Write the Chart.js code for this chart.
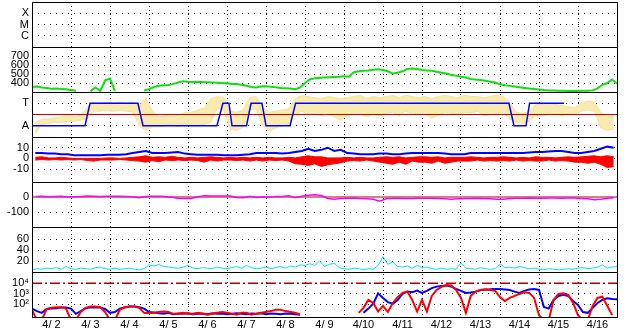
<!DOCTYPE html>
<html><head><meta charset="utf-8">
<script src="https://cdn.jsdelivr.net/npm/chart.js@4/dist/chart.umd.min.js"></script>
<style>html,body{margin:0;padding:0;background:#fff;overflow:hidden}canvas{display:block}</style>
</head><body>
<canvas id="c" width="628" height="334"></canvas>
<script>
// x axis: hours since 4/2 00:00
const dateLabels = ['4/ 2','4/ 3','4/ 4','4/ 5','4/ 6','4/ 7','4/ 8','4/ 9','4/10','4/11','4/12','4/13','4/14','4/15','4/16'];
const flareTicks = [1,2,3];          const flareLabels = ['C','M','X'];
const speedTicks = [400,500,600,700]; const speedLabels = ['400','500','600','700'];
const sectorTicks = [1,3];           const sectorLabels = ['A','T'];
const bTicks = [-10,0,10];           const bLabels = ['-10','0','10'];
const dstTicks = [-100,0];           const dstLabels = ['-100','0'];
const densTicks = [20,40,60];        const densLabels = ['20','40','60'];
const fluxTicks = [100,1000,10000];  const fluxLabels = ['10\u00B2','10\u00B3','10\u2074'];

// solar wind speed, every 3 h
const speedStep = 3;
const speed = [355,360,350,345,335,338,332,330,322,315,null,null,310,350,312,430,450,312,null,null,null,null,null,318,330,355,370,375,378,390,405,420,415,412,415,410,408,405,402,400,398,390,388,380,370,355,350,360,365,358,352,345,342,338,330,350,400,440,452,458,462,465,468,470,475,470,520,530,535,540,548,552,545,530,505,515,530,555,562,555,545,540,535,525,515,505,490,482,470,460,445,438,433,425,415,405,385,375,368,360,352,345,338,332,328,322,318,316,315,314,312,311,312,313,314,318,340,380,400,440,395];

// sector (yellow) ranges every 4 h, and A/T state
const sectorStep = 4;
const sectorLo = [0.3,1.1,1.2,1.3,1.3,1.4, 1.4,1.5,1.6,2.3,2.3,2.4, 2.3,2.4,2.3,2.2,1.0,0.6, 0.9,0.9,1.0,1.1,0.9,1.2, 1.0,1.0,1.1,1.3,2.6,2.4, 0.7,0.6,0.9,2.4,2.5,1.0, 0.5,0.8,1.0,1.1,2.0,2.3, 2.0,2.1,1.9,2.0,1.8,1.5, 1.9,2.1,2.0,1.8,2.0,1.9, 2.1,2.2,1.9,2.3,2.0,2.1, 2.0,1.7,1.9,2.2,2.1,2.0, 2.2,2.1,2.3,1.9,2.0,2.1, 2.2,1.6,1.3,1.2,1.4,1.9, 1.9,2.0,2.1,1.9,2.1,2.0, 2.3,2.4,2.3,0.8,0.6,0.7];
const sectorHi = [1.2,1.6,1.6,1.7,1.8,2.0, 1.8,1.9,2.6,3.0,3.0,3.1, 3.0,3.1,3.0,3.1,2.8,3.5, 2.3,1.8,1.9,2.0,1.9,2.2, 2.2,2.4,2.6,3.4,3.6,3.5, 2.3,2.2,2.4,3.5,3.6,2.6, 2.2,2.3,2.4,2.5,3.4,3.7, 3.6,3.5,3.4,3.6,3.5,3.4, 3.5,3.6,3.7,3.4,3.6,3.5, 3.6,3.7,3.5,3.7,3.6,3.5, 3.6,3.4,3.6,3.7,3.6,3.5, 3.7,3.6,3.6,3.5,3.6,3.7, 3.6,3.1,2.2,2.1,2.3,2.9, 2.9,3.0,2.9,2.8,2.7,2.6, 3.0,3.2,3.1,2.2,1.8,1.9];
const sectorTimes = [0,32.6,35.7,65.2,68.3,113.8,117.5,121.2,123.1,132,134.8,141.5,144,158.8,162.2,293.5,296.6,304,306.2,327.4];
const sectorState = [1,1,3,3,1,1,3,3,1,1,3,3,1,1,3,3,1,1,3,3];
const sectorBoundary = 2;

// IMF every 4 h
const bStep = 4;
const bzLo = [-1.5,-1,-1.5,-1,-1.5,-1, -1.5,-1,-2,-2.5,-1.5,-1.5, -1.5,-1,-1.5,-2,-2.5,-3.5, -2,-3,-1.5,-2,-1.5,-2, -1.5,-2,-3.5,-1.5,-2.5,-1.5, -1.5,-2,-1.5,-2.5,-1.5,-2.5, -1.5,-2,-1.5,-2.5,-5,-5.5, -6.5,-5,-7.5,-6,-5,-4, -2.5,-2,-2.5,-1.5,-2.5,-3.5, -4.5,-5.5,-3.5,-5.5,-2.5,-3.5, -3.5,-4.5,-2.5,-4.5,-3.5,-2.5, -2.5,-2.5,-1.5,-2.5,-2,-2.5, -2,-2.5,-1.5,-2.5,-2,-2.5, -2.5,-1.5,-2.5,-2,-2.5,-3.5, -3.5,-4.5,-3.5,-5.5,-8.5,-7.5];
const bzHi = [1,1.5,0.5,0.5,1,0.5, 0,0,0,0,0,0.5, 0.5,0,0.5,1,1.5,2.5, 1,1.5,1,2,1,0.5, 1,0.5,1,1.5,1,0.5, 1,0.5,1,0.5,1,0.5, 1,0.5,0.5,1,0.5,1.5, 2.5,1.5,1.5,0.5,0.5,0.5, 1,0.5,1,0.5,0.5,1, 1.5,1,1.5,0.5,1,1.5, 1.5,1,1.5,0.5,1,1, 1,1.5,1,0.5,1,1, 1.5,1,0.5,1,0.5,1.5, 1,1,0.5,1,1.5,1, 1.5,2,2.5,1.5,2.5,1.5];
const bt = [5,5,4.5,4.5,4,4, 3,3,3,3,3,3.5, 3.5,3.5,4,5,6,7, 5,5,5,5.5,6,4.5, 4,3.5,3.5,3.5,3.5,3, 3,3,3.5,4,5,5, 5,5,4.5,5,6,7, 9,7,8,10,7,8, 5,4.5,4,4,4,4.5, 4.5,4,4,4.5,5,5, 5,5,5,4.5,4,4, 4,5,5,5,5,5, 5,5,5,5,5.5,6, 6,6.5,7,7,6,5, 5,6,7,9,11,10];

// Dst every 4 h
const dstStep = 4;
const dst = [3,5,2,4,5,0, 2,4,6,5,3,5, 5,5,4,2,-5,3, 5,5,4,-2,-8,-10, -10,2,8,7,7,7, 7,-3,-5,5,-3,0, 0,3,3,8,-5,5, 12,15,10,-10,-15,-10, -8,-7,-10,-12,-15,-28, -12,-8,-9,-10,-10,-8, -8,-9,-10,-12,-15,-12, -10,-10,-8,-10,-12,-15, -15,-10,-8,-8,-7,-8, -8,-7,-6,-8,-6,-6, -10,-12,-18,-15,-8,-5];

// density every 3 h
const densStep = 3;
const density = [4,6,5,7,6,8,5,10,6,5, 7,6,5,8,9,6,5,7,5,6, 7,5,4,6,13,11,14,10,9,8, 7,9,12,7,6,8,7,6,9,7, 6,8,10,7,12,8,6,7,9,6, 8,10,7,11,9,13,12,15,12,20, 10,14,16,8,6,5,7,6,4,6, 5,12,28,14,18,10,9,11,7,12, 8,9,6,5,7,5,6,5,17,7, 6,5,8,6,5,6,15,8,9,7, 10,8,6,7,5,4,6,5,4,5, 6,5,7,8,6,7,9,13,7,9, 10];

// electron flux every 3 h
const fluxStep = 3;
const fluxRed = [29,3,3,35,45,52,52,38,3,3, 18,45,59,59,52,18,3,3,29,52, 59,59,45,15,14,15,18,20,18,12, 12,15,12,12,15,12,10,12,15,18, 15,12,10,15,15,10,12,15,18,22, 29,29,22,18,15,10,null,null,null,null, null,null,null,null,null,null,null,15,45,257, 132,20,70,18,132,480,1200,1600,257,20, 257,20,620,2300,4500,6900,6200,2300,400,15, 620,1600,2300,2600,2300,1900,480,200,400,620, 960,1400,1200,400,9,3,3,257,960,1100, 780,132,9,3,3,70,400,525,70,9, null];
const fluxBlue = [38,22,15,35,38,42,48,48,38,12, 22,42,52,48,48,35,15,18,38,48, 59,59,52,38,18,16,14,12,15,11, 13,12,14,11,12,13,11,14,12,13, 11,12,14,12,11,13,12,14,11,13, 12,11,13,12,11,10,null,null,null,null, null,null,null,null,null,null,null,null,15,38, 110,1100,400,160,110,257,960,1600,1400,2000, 1200,1900,3500,4800,5600,6200,4800,2900,1900,1200, 1300,1600,2300,2600,2700,2900,2900,2600,2300,1600, 1200,1900,2600,2900,2300,55,38,257,620,780, 620,200,85,18,15,45,132,257,370,320, 300];
const fluxAlert = 10000;

Chart.defaults.font.family = "'Liberation Sans', Arial, Helvetica, sans-serif";
Chart.defaults.font.size = 11;
Chart.defaults.color = '#000';

const series = (vals, step, off) => vals.map((v, i) => ({x: off + i * step, y: v}));

function panelAxis(type, min, max, tickVals, tickLabels, hideAt) {
  return {
    type, position: 'left', stack: 'panels', stackWeight: 1, min, max, offset: false,
    border: {display: false, dash: [1, 5]},
    grid: {
      color: c => (hideAt !== undefined && c.tick && c.tick.value === hideAt) ? 'rgba(0,0,0,0)' : '#000',
      lineWidth: 1, drawTicks: false, borderDash: [1, 5]
    },
    ticks: {autoSkip: false, padding: 3, color: '#000', callback: (v, i) => tickLabels[i]},
    afterBuildTicks: s => { s.ticks = tickVals.map(v => ({value: v})); },
    afterFit: s => { s.width = 32; s.paddingTop = 0; s.paddingBottom = 0; }
  };
}

const panelIds = ['yFlux', 'yDens', 'yDst', 'yB', 'ySector', 'ySpeed', 'yFlare'];
const scales = {
  x: {
    type: 'linear', position: 'bottom', min: 0, max: 360, offset: false,
    border: {display: false, dash: [1, 3]},
    grid: {offset: false, drawTicks: false, lineWidth: 1, borderDash: [1, 3],
      color: c => (c.tick && c.tick.value % 24 === 0) ? '#000' : 'rgba(0,0,0,0)'},
    ticks: {autoSkip: false, maxRotation: 0, padding: 1, color: '#000',
      callback: v => (v % 24 === 12) ? dateLabels[(v - 12) / 24] : ''},
    afterBuildTicks: s => { const t = []; for (let h = 12; h < 360; h += 12) t.push({value: h}); s.ticks = t; },
    afterFit: s => { s.height = 17; s.paddingLeft = 0; s.paddingRight = 0; }
  },
  yFlux: panelAxis('logarithmic', 6, 120000, fluxTicks, fluxLabels, fluxAlert),
  yDens: panelAxis('linear', 0, 82, densTicks, densLabels),
  yDst: panelAxis('linear', -200, 100, dstTicks, dstLabels, 0),
  yB: panelAxis('linear', -22, 20, bTicks, bLabels),
  ySector: panelAxis('linear', 0, 4, sectorTicks, sectorLabels),
  ySpeed: panelAxis('linear', 300, 800, speedTicks, speedLabels),
  yFlare: panelAxis('linear', 0, 4, flareTicks, flareLabels)
};

const line = (o) => Object.assign({type: 'line', pointRadius: 0, tension: 0, fill: false, borderWidth: 1}, o);

const datasets = [
  line({yAxisID: 'yFlux', data: [{x: 0, y: fluxAlert}, {x: 360, y: fluxAlert}], borderColor: '#b00000', borderWidth: 1.5, borderDash: [10, 3, 2, 3], order: 1}),
  line({yAxisID: 'yFlux', data: series(fluxRed, fluxStep, 0), borderColor: '#ff0000', borderWidth: 2, order: 2}),
  line({yAxisID: 'yFlux', data: series(fluxBlue, fluxStep, 0), borderColor: '#0000ff', borderWidth: 2, order: 3}),
  line({yAxisID: 'yDens', data: series(density, densStep, 0), borderColor: '#00e6e6', borderWidth: 1, order: 4}),
  line({yAxisID: 'yDst', data: [{x: 0, y: 0}, {x: 360, y: 0}], borderColor: '#b00000', borderWidth: 1, order: 6}),
  line({yAxisID: 'yDst', data: series(dst, dstStep, dstStep / 2), borderColor: '#ff00ff', borderWidth: 1.5, order: 5}),
  line({yAxisID: 'yB', data: series(bt, bStep, bStep / 2), borderColor: '#0000ff', borderWidth: 2, order: 7}),
  // Bz: band between low and high reading of each interval
  line({yAxisID: 'yB', data: series(bzLo, bStep, bStep / 2), borderColor: '#ff0000', borderWidth: 1, order: 8}),
  line({yAxisID: 'yB', data: series(bzHi, bStep, bStep / 2), borderColor: '#ff0000', borderWidth: 1, backgroundColor: '#ff0000', fill: '-1', order: 8}),
  line({yAxisID: 'ySector', data: sectorTimes.map((t, i) => ({x: t, y: sectorState[i]})), borderColor: '#0000ff', borderWidth: 1.5, order: 9}),
  line({yAxisID: 'ySector', data: [{x: 0, y: sectorBoundary}, {x: 360, y: sectorBoundary}], borderColor: '#cc0000', borderWidth: 1, order: 10}),
  // sector angle scatter: band between low and high reading of each interval
  line({yAxisID: 'ySector', data: series(sectorLo, sectorStep, sectorStep / 2), borderColor: '#f6e296', borderWidth: 1, order: 11}),
  line({yAxisID: 'ySector', data: series(sectorHi, sectorStep, sectorStep / 2), borderColor: '#f6e296', borderWidth: 1, backgroundColor: '#f9eab0', fill: '-1', order: 11}),
  line({yAxisID: 'ySpeed', data: series(speed, speedStep, 0), borderColor: '#10e010', borderWidth: 2, order: 12})
];

const frame = {
  id: 'frame',
  afterDatasetsDraw(chart) {
    const ctx = chart.ctx, a = chart.chartArea;
    ctx.save();
    ctx.strokeStyle = '#000';
    ctx.lineWidth = 1;
    panelIds.forEach(id => {
      const s = chart.scales[id];
      const t = Math.round(s.top), b = Math.round(s.bottom);
      ctx.strokeRect(Math.round(a.left) + 0.5, t + 0.5, Math.round(a.right) - Math.round(a.left), b - t);
    });
    ctx.restore();
  }
};

new Chart(document.getElementById('c'), {
  type: 'line',
  data: {datasets},
  options: {
    responsive: false, animation: false, devicePixelRatio: 1,
    layout: {padding: {left: 0, top: 2, right: 11, bottom: 0}},
    plugins: {legend: {display: false}, tooltip: {enabled: false}},
    scales
  },
  plugins: [frame]
});
</script>
</body></html>
